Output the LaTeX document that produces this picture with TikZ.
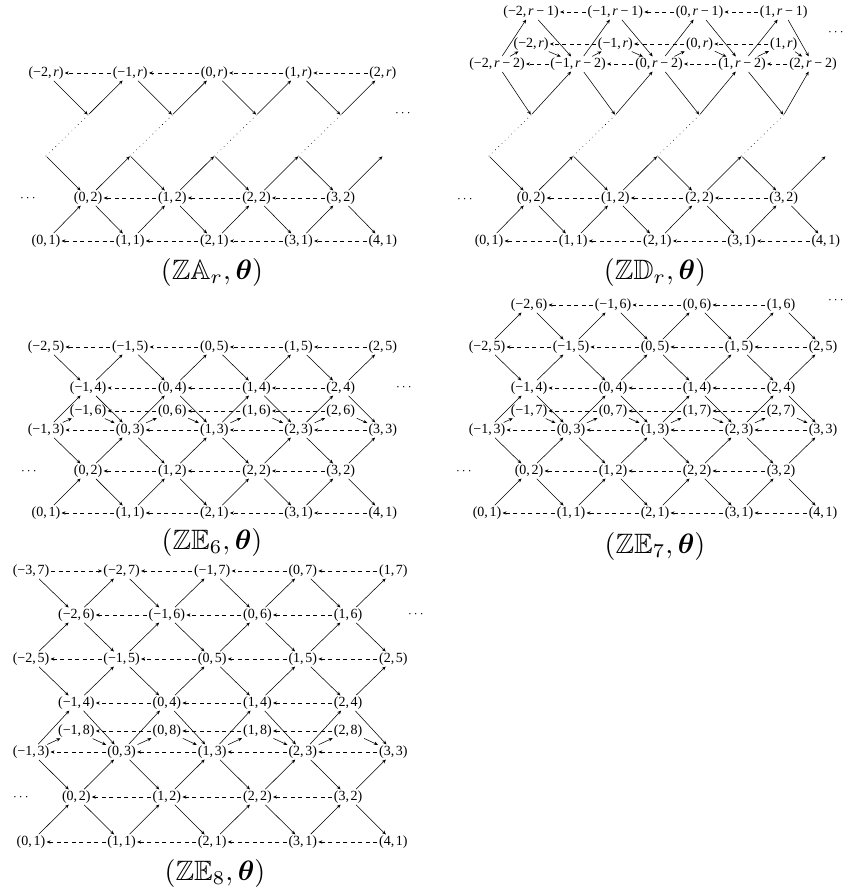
\documentclass[tikz,border=0pt]{standalone}
\usepackage[no-math]{fontspec}
\usepackage{amsmath,amssymb}
\newfontfamily\labfont{Liberation Serif}
\usetikzlibrary{arrows.meta}
\newcommand\nm[1]{\ifnum#1<0 −\number-#1\else#1\fi}
\newcommand\rmn[1]{\textit{r}\hspace{0.2em}−\hspace{0.2em}#1}
\newcommand\mkrow[7]{%
  \foreach \c in {#6}{%
    \pgfmathtruncatemacro\k{(\c-(#7))/2}%
    \node[lab] (#1-#4-\c) at ({#2+\hs*\c},#3) {(\nm{\k},\hspace{0.12em}#5)};}}
\newcommand\mkpts[5]{%
  \foreach \c in {#5}{\coordinate (#1-#4-\c) at ({#2+\hs*\c},#3);}}
\newcommand\arr[4]{%
  \foreach \c in {#4}{\pgfmathtruncatemacro\d{\c+1}\draw[ar] (#1-#2-\c) -- (#1-#3-\d);}}
\newcommand\dsh[3]{%
  \foreach \c in {#3}{\pgfmathtruncatemacro\d{\c-2}\draw[da] (#1-#2-\c) -- (#1-#2-\d);}}
\newcommand\dtt[4]{%
  \foreach \c in {#4}{\pgfmathtruncatemacro\d{\c+1}\draw[dt] (#1-#2-\c) -- (#1-#3-\d);}}
\tikzset{
  lab/.style={font=\labfont\fontsize{14}{16}\selectfont, inner sep=0.6pt},
  ar/.style={-{Stealth[length=4pt,width=3.4pt]}, line width=0.55pt, shorten <=1pt, shorten >=0.5pt},
  da/.style={ar, dash pattern=on 4pt off 3.5pt},
  dt/.style={line width=0.9pt, dash pattern=on 0.01pt off 4.5pt, line cap=round},
  captxt/.style={scale=2.8, inner sep=0pt},
  ell/.style={scale=1.35, inner sep=0pt},
}
\begin{document}
\begin{tikzpicture}[x=1pt,y=-1pt]
\useasboundingbox (0,0) rectangle (846,895);
% ================= Panel A : ZA_r =================
\def\hs{42.1}
\mkrow{A}{46}{241}{1}{1}{0,2,4,6,8}{0}
\mkrow{A}{46}{198}{2}{2}{1,3,5,7}{1}
\mkpts{A}{46}{156}{p3}{0,2,4,6,8}
\mkpts{A}{46}{115}{p4}{1,3,5,7}
\mkrow{A}{46}{73}{r}{\textit{r}}{0,2,4,6,8}{4}
\arr{A}{1}{2}{0,2,4,6}
\arr{A}{2}{1}{1,3,5,7}
\arr{A}{p3}{2}{0,2,4,6}
\arr{A}{2}{p3}{1,3,5,7}
\arr{A}{r}{p4}{0,2,4,6}
\arr{A}{p4}{r}{1,3,5,7}
\dtt{A}{p3}{p4}{0,2,4,6}
\dsh{A}{r}{2,4,6,8}
\dsh{A}{2}{3,5,7}
\dsh{A}{1}{2,4,6,8}
\node[ell] (A-e1) at (404,113) {$\cdots$};
\node[ell] (A-e2) at (29,198) {$\cdots$};
\node[captxt] (A-cap) at (212,272) {$(\mathbb{ZA}_r,\boldsymbol{\theta})$};
% ================= Panel B : ZD_r =================
\def\hs{42.1}
\mkrow{B}{489}{241}{1}{1}{0,2,4,6,8}{0}
\mkrow{B}{489}{198}{2}{2}{1,3,5,7}{1}
\mkpts{B}{489}{156}{p3}{0,2,4,6,8}
\mkpts{B}{489}{115}{p4}{1,3,5,7}
\node[lab] (B-m2-0) at (497,64) {(−2,\hspace{0.12em}\rmn{2})};
\node[lab] (B-m2-2) at (578,64) {(−1,\hspace{0.12em}\rmn{2})};
\node[lab] (B-m2-4) at (659,64) {(0,\hspace{0.12em}\rmn{2})};
\node[lab] (B-m2-6) at (742,64) {(1,\hspace{0.12em}\rmn{2})};
\node[lab] (B-m2-8) at (813,64) {(2,\hspace{0.12em}\rmn{2})};
\mkrow{B}{489}{44}{r}{\textit{r}}{1,3,5,7}{5}
\mkrow{B}{489}{12}{m1}{\rmn{1}}{1,3,5,7}{5}
\arr{B}{1}{2}{0,2,4,6}
\arr{B}{2}{1}{1,3,5,7}
\arr{B}{p3}{2}{0,2,4,6}
\arr{B}{2}{p3}{1,3,5,7}
\arr{B}{m2}{p4}{0,2,4,6}
\arr{B}{p4}{m2}{1,3,5,7}
\arr{B}{m2}{m1}{0,2,4,6}
\arr{B}{m1}{m2}{1,3,5,7}
\arr{B}{m2}{r}{0,2,4,6}
\arr{B}{r}{m2}{1,3,5,7}
\dtt{B}{p3}{p4}{0,2,4,6}
\dsh{B}{m1}{3,5,7}
\dsh{B}{r}{3,5,7}
\dsh{B}{m2}{2,4,6,8}
\dsh{B}{2}{3,5,7}
\dsh{B}{1}{2,4,6,8}
\node[ell] (B-e1) at (837,32) {$\cdots$};
\node[ell] (B-e2) at (466,199) {$\cdots$};
\node[captxt] (B-cap) at (655,272) {$(\mathbb{ZD}_r,\boldsymbol{\theta})$};
% ================= Panel C : ZE6 =================
\def\hs{42.1}
\mkrow{C}{46}{513}{1}{1}{0,2,4,6,8}{0}
\mkrow{C}{46}{471}{2}{2}{1,3,5,7}{1}
\mkrow{C}{46}{430}{3}{3}{0,2,4,6,8}{2}
\mkrow{C}{46}{411}{6}{6}{1,3,5,7}{3}
\mkrow{C}{46}{388}{4}{4}{1,3,5,7}{3}
\mkrow{C}{46}{347}{5}{5}{0,2,4,6,8}{4}
\arr{C}{1}{2}{0,2,4,6}
\arr{C}{2}{1}{1,3,5,7}
\arr{C}{3}{2}{0,2,4,6}
\arr{C}{2}{3}{1,3,5,7}
\arr{C}{3}{4}{0,2,4,6}
\arr{C}{4}{3}{1,3,5,7}
\arr{C}{3}{6}{0,2,4,6}
\arr{C}{6}{3}{1,3,5,7}
\arr{C}{5}{4}{0,2,4,6}
\arr{C}{4}{5}{1,3,5,7}
\dsh{C}{5}{2,4,6,8}
\dsh{C}{4}{3,5,7}
\dsh{C}{6}{3,5,7}
\dsh{C}{3}{2,4,6,8}
\dsh{C}{2}{3,5,7}
\dsh{C}{1}{2,4,6,8}
\node[ell] (C-e1) at (405,387) {$\cdots$};
\node[ell] (C-e2) at (30,471) {$\cdots$};
\node[captxt] (C-cap) at (212,542) {$(\mathbb{ZE}_6,\boldsymbol{\theta})$};
% ================= Panel D : ZE7 =================
\def\hs{42}
\mkrow{D}{487}{513}{1}{1}{0,2,4,6,8}{0}
\mkrow{D}{487}{471}{2}{2}{1,3,5,7}{1}
\mkrow{D}{487}{430}{3}{3}{0,2,4,6,8}{2}
\mkrow{D}{487}{411}{7}{7}{1,3,5,7}{3}
\mkrow{D}{487}{388}{4}{4}{1,3,5,7}{3}
\mkrow{D}{487}{347}{5}{5}{0,2,4,6,8}{4}
\mkrow{D}{487}{305}{6}{6}{1,3,5,7}{5}
\arr{D}{1}{2}{0,2,4,6}
\arr{D}{2}{1}{1,3,5,7}
\arr{D}{3}{2}{0,2,4,6}
\arr{D}{2}{3}{1,3,5,7}
\arr{D}{3}{4}{0,2,4,6}
\arr{D}{4}{3}{1,3,5,7}
\arr{D}{3}{7}{0,2,4,6}
\arr{D}{7}{3}{1,3,5,7}
\arr{D}{5}{4}{0,2,4,6}
\arr{D}{4}{5}{1,3,5,7}
\arr{D}{5}{6}{0,2,4,6}
\arr{D}{6}{5}{1,3,5,7}
\dsh{D}{6}{3,5,7}
\dsh{D}{5}{2,4,6,8}
\dsh{D}{4}{3,5,7}
\dsh{D}{7}{3,5,7}
\dsh{D}{3}{2,4,6,8}
\dsh{D}{2}{3,5,7}
\dsh{D}{1}{2,4,6,8}
\node[ell] (D-e1) at (837,300) {$\cdots$};
\node[ell] (D-e2) at (465,471) {$\cdots$};
\node[captxt] (D-cap) at (655,546) {$(\mathbb{ZE}_7,\boldsymbol{\theta})$};
% ================= Panel E : ZE8 =================
\def\hs{45.3}
\mkrow{E}{31}{842}{1}{1}{0,2,4,6,8}{0}
\mkrow{E}{31}{797}{2}{2}{1,3,5,7}{1}
\mkrow{E}{31}{752}{3}{3}{0,2,4,6,8}{2}
\mkrow{E}{31}{731}{8}{8}{1,3,5,7}{3}
\mkrow{E}{31}{703}{4}{4}{1,3,5,7}{3}
\mkrow{E}{31}{659}{5}{5}{0,2,4,6,8}{4}
\mkrow{E}{31}{615}{6}{6}{1,3,5,7}{5}
\mkrow{E}{31}{571}{7}{7}{0,2,4,6,8}{6}
\arr{E}{1}{2}{0,2,4,6}
\arr{E}{2}{1}{1,3,5,7}
\arr{E}{3}{2}{0,2,4,6}
\arr{E}{2}{3}{1,3,5,7}
\arr{E}{3}{4}{0,2,4,6}
\arr{E}{4}{3}{1,3,5,7}
\arr{E}{3}{8}{0,2,4,6}
\arr{E}{8}{3}{1,3,5,7}
\arr{E}{5}{4}{0,2,4,6}
\arr{E}{4}{5}{1,3,5,7}
\arr{E}{5}{6}{0,2,4,6}
\arr{E}{6}{5}{1,3,5,7}
\arr{E}{7}{6}{0,2,4,6}
\arr{E}{6}{7}{1,3,5,7}
\draw[da] (E-7-0) -- (E-7-2);
\dsh{E}{7}{4,6,8}
\dsh{E}{6}{3,5,7}
\dsh{E}{5}{2,4,6,8}
\dsh{E}{4}{3,5,7}
\dsh{E}{8}{3,5,7}
\dsh{E}{3}{2,4,6,8}
\dsh{E}{2}{3,5,7}
\dsh{E}{1}{2,4,6,8}
\node[ell] (E-e1) at (417,614) {$\cdots$};
\node[ell] (E-e2) at (22,797) {$\cdots$};
\node[captxt] (E-cap) at (215,873) {$(\mathbb{ZE}_8,\boldsymbol{\theta})$};
\end{tikzpicture}
\end{document}
